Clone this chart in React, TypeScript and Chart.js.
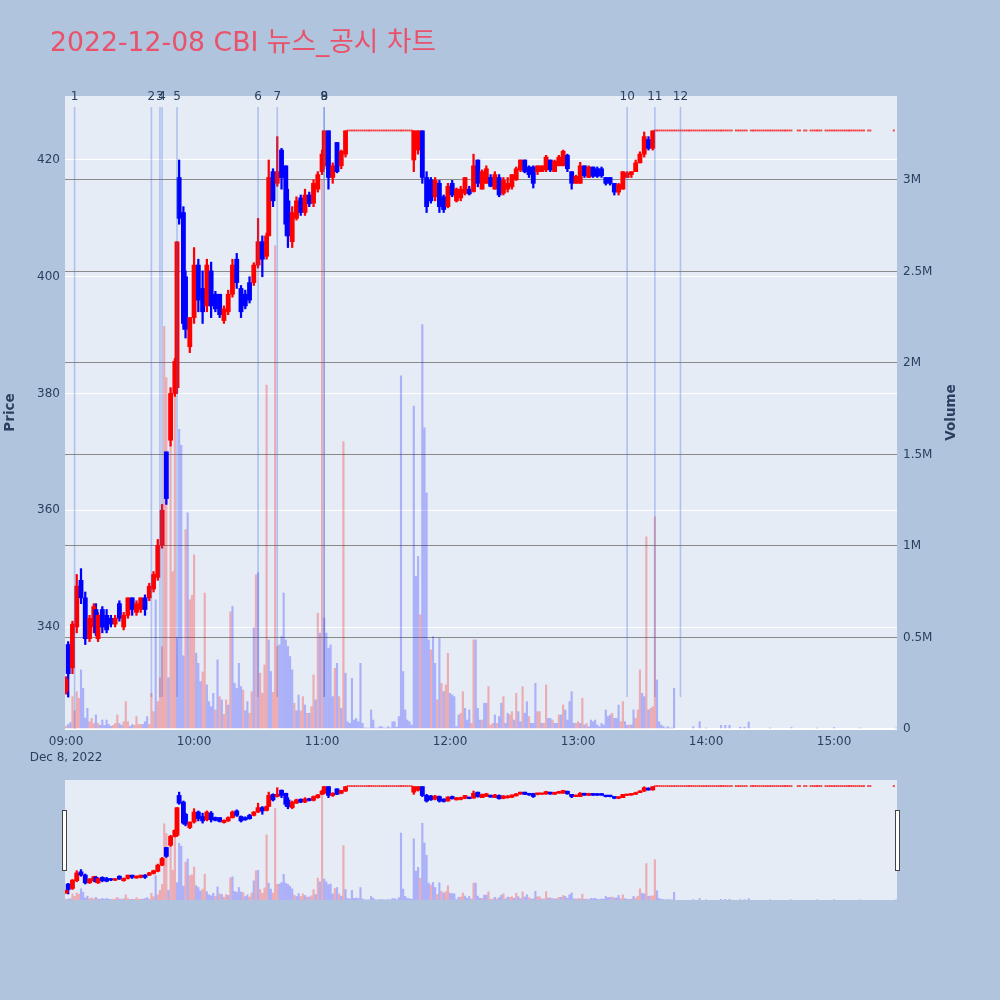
import React, { useEffect, useRef } from 'react';
import { Chart, registerables } from 'chart.js';

Chart.register(...registerables);

const FONT = '"DejaVu Sans", Verdana, sans-serif';
const TEXT_COLOR = '#2a3f5f';

const chartTitle = '2022-12-08 CBI 뉴스_공시 차트';
const dateLabel = 'Dec 8, 2022';
const priceAxisTitle = 'Price';
const volumeAxisTitle = 'Volume';

// ---- candles (minutes after 09:00) ----
const candleMinute = [
  0, 1, 3, 5, 7, 9, 11, 13, 14, 15,
  17, 19, 21, 23, 25, 27, 29, 31, 33, 35,
  37, 39, 41, 43, 45, 47, 49, 51, 52, 53,
  55, 56, 58, 60, 62, 64, 66, 68, 70, 72,
  74, 76, 78, 80, 82, 84, 86, 88, 90, 92,
  94, 95, 97, 99, 101, 103, 104, 106, 108, 110,
  112, 114, 116, 118, 120, 121, 123, 125, 127, 129,
  131, 163, 165, 167, 169, 171, 173, 175, 177, 179,
  181, 183, 185, 187, 189, 191, 193, 195, 197, 199,
  201, 203, 205, 207, 209, 211, 213, 215, 217, 219,
  221, 223, 225, 227, 229, 231, 233, 235, 237, 239,
  241, 243, 245, 247, 249, 251, 253, 255, 257, 259,
  261, 263, 265, 267, 269, 271, 273, 275,
];
const candleOpen = [
  329, 337, 333, 340, 348, 345, 338, 340, 343, 338,
  343, 342, 341.5, 340.5, 344, 340, 342, 345, 342.5, 343,
  345, 345, 346.5, 348.5, 354, 370, 372, 380, 381, 417,
  411, 400, 388, 393, 402, 398, 395, 401, 397, 397,
  392.5, 394, 397, 403, 398, 397, 399, 399, 402, 406,
  403.5, 407, 418, 416, 421.7, 419, 413, 406, 410, 413.5,
  411, 414, 412.6, 415, 418, 419, 425, 417, 423, 419,
  421, 420, 421.7, 425, 417, 416.6, 413.7, 416, 413.7, 412,
  416, 413, 413.5, 414.3, 415, 414.6, 420, 415, 416, 417,
  415, 417, 414.3, 415, 415.4, 416.6, 418.3, 420, 418.8, 418.8,
  418, 418, 418.3, 420, 418, 419, 419, 420.8, 418, 416,
  416, 419, 417, 418.8, 418.5, 418.5, 417, 417, 416, 414.5,
  415, 417, 417.5, 418, 419.5, 421, 423.5, 422,
];
const candleHigh = [
  331.5, 337.5, 341, 349, 350, 346, 342, 344, 344, 342.5,
  343.5, 343, 342, 342, 344.5, 342.5, 345, 345, 344.5, 345,
  345.5, 347.5, 349.5, 355, 361, 370, 381, 386, 406, 420,
  412, 401, 393, 405, 403, 401, 403, 402.5, 397.5, 397,
  395, 397.7, 403, 404, 398.5, 397.7, 400, 402.4, 410, 407,
  407.5, 420, 418.5, 424, 422, 419, 415, 412, 413.7, 414,
  415, 414.5, 416.6, 418, 421.7, 425, 425, 419.5, 423, 421.7,
  425, 425, 425, 425, 418, 417, 417, 416.5, 414, 416,
  416.5, 415.2, 415.5, 417, 415.5, 421, 420, 418.3, 419, 417.5,
  418, 417.5, 417, 417, 417.5, 418.8, 420, 420, 419, 419,
  419, 419, 420.8, 420, 420, 420.8, 421.7, 421, 418, 417.4,
  419.6, 419, 419, 418.8, 418.8, 418.8, 417, 417, 416, 416,
  418, 418, 418, 420, 421.4, 424.8, 424, 425,
];
const candleLow = [
  328.5, 328, 332, 339, 344, 337, 337.5, 339, 338.5, 337.5,
  339, 339, 340, 340, 341, 339.5, 341.5, 342, 342, 342.5,
  342, 344.5, 346, 348, 353.5, 361, 371, 379.5, 380, 409,
  391, 389.5, 387, 392, 394, 392, 394, 393, 394, 393,
  392, 393.5, 396.5, 398, 393, 394.5, 395.5, 398.5, 401.5, 400,
  403, 407, 412, 415.5, 415, 407, 405, 405, 409.7, 410.5,
  410.5, 412, 412, 414.5, 417.5, 418.5, 415, 416, 417.8, 418.5,
  420.5, 418, 421, 416, 411, 412.6, 413, 411, 411, 411.8,
  413.7, 412.8, 413, 414, 414, 414.5, 415.4, 415, 416, 415.4,
  415, 413.7, 414, 414.5, 415, 416.5, 418, 417.8, 417, 415.2,
  417.5, 418, 418, 418, 418, 419, 419, 418, 415, 416,
  416, 417, 417, 417, 417, 417, 415.7, 415.7, 414, 414,
  415, 417, 417, 418, 419.5, 420.5, 421.7, 421.7,
];
const candleClose = [
  331, 332, 340.5, 347, 345, 338, 341.5, 343.5, 339, 342,
  340, 339.5, 340.5, 341.5, 341.5, 342, 345, 343, 344, 345,
  343, 347, 349, 354, 360, 362, 380, 385.5, 406, 410,
  392, 391, 393, 402, 396, 394, 402, 395, 394.5, 393.5,
  394.5, 397, 402, 399, 394, 395, 396, 402, 406, 403,
  407, 417, 413, 418, 417, 409, 407, 411, 413, 411,
  414, 412.5, 416, 417.5, 421, 425, 417, 419, 418, 421.5,
  425, 425, 425, 417, 412, 413, 416.5, 412, 411.5, 415.5,
  414, 415, 415, 417, 414.2, 419, 416, 418, 418.5, 415.5,
  417.5, 414, 416.5, 416, 417.5, 418.5, 420, 418, 417.5, 416,
  419, 419, 420.5, 418.3, 419.8, 420.5, 421.5, 418.5, 416, 417.2,
  419, 417.3, 418.8, 417.2, 417.2, 417.3, 416, 416, 414.5, 415.8,
  418, 417.8, 418, 419.5, 421, 424, 422, 425,
];

// minutes (after 09:00) spent at the upper-limit price, one doji per minute
const limitPrice = 425;
const limitRanges = [
  [132, 162], [276, 312], [314, 319], [321, 340], [343, 344],
  [346, 347], [349, 354], [356, 374], [376, 377], [388, 388],
];

// volume per minute from 09:00 (thousand shares) and direction (1 = up minute)
const volumeK = [
  15, 25, 35, 177, 100, 204, 168, 323, 222, 60,
  113, 40, 58, 30, 77, 30, 20, 49, 20, 49,
  25, 15, 20, 30, 77, 30, 20, 40, 150, 40,
  15, 25, 20, 68, 25, 25, 25, 40, 68, 25,
  195, 95, 706, 150, 280, 450, 2200, 1920, 280, 1550,
  860, 1850, 500, 1637, 1550, 400, 1089, 1181, 706, 730,
  952, 414, 359, 259, 312, 743, 241, 150, 122, 195,
  104, 378, 177, 159, 80, 159, 131, 640, 670, 250,
  222, 359, 232, 213, 100, 150, 86, 204, 553, 843,
  854, 305, 195, 350, 1880, 487, 314, 200, 2640, 451,
  460, 505, 743, 487, 451, 396, 323, 141, 100, 186,
  100, 177, 131, 86, 86, 122, 296, 159, 633, 524,
  3000, 606, 524, 442, 460, 177, 332, 359, 177, 113,
  1570, 305, 40, 31, 277, 49, 58, 40, 359, 31,
  5, 5, 5, 104, 49, 5, 5, 13, 13, 5,
  5, 13, 5, 40, 40, 10, 68, 1930, 314, 104,
  49, 40, 22, 1764, 834, 943, 624, 2210, 1646, 1290,
  487, 432, 505, 359, 159, 496, 250, 204, 241, 414,
  195, 186, 177, 13, 77, 86, 204, 113, 49, 104,
  31, 487, 487, 113, 49, 49, 141, 141, 232, 22,
  31, 77, 31, 68, 141, 177, 31, 86, 77, 95,
  49, 195, 95, 40, 232, 86, 150, 68, 31, 31,
  250, 95, 95, 31, 31, 241, 58, 58, 49, 31,
  31, 77, 77, 131, 104, 49, 150, 204, 31, 31,
  40, 31, 168, 22, 31, 13, 49, 40, 49, 22,
  13, 31, 22, 104, 68, 77, 86, 58, 58, 131,
  40, 150, 40, 20, 22, 22, 104, 58, 104, 323,
  195, 177, 1050, 104, 113, 122, 1160, 268, 40, 22,
  13, 5, 13, 5, 5, 222,
];
const volumeUp = [
  1, 0, 0, 1, 1, 1, 1, 0, 0, 0,
  0, 1, 1, 1, 0, 1, 0, 0, 0, 0,
  0, 0, 1, 1, 1, 0, 0, 1, 1, 1,
  0, 0, 1, 1, 1, 1, 0, 0, 0, 1,
  1, 1, 0, 1, 1, 1, 1, 1, 0, 1,
  1, 1, 0, 0, 0, 0, 1, 0, 1, 1,
  1, 0, 0, 0, 1, 1, 0, 0, 0, 0,
  1, 0, 1, 0, 1, 1, 0, 1, 0, 0,
  0, 0, 0, 1, 0, 0, 1, 1, 0, 1,
  0, 1, 1, 1, 1, 0, 0, 1, 1, 1,
  0, 0, 0, 0, 0, 0, 0, 1, 0, 0,
  1, 1, 0, 1, 0, 1, 1, 0, 1, 0,
  1, 0, 0, 0, 0, 0, 1, 0, 1, 0,
  1, 0, 0, 0, 0, 0, 0, 0, 0, 0,
  0, 0, 0, 0, 0, 0, 0, 0, 0, 0,
  0, 0, 0, 0, 0, 0, 0, 0, 0, 0,
  0, 0, 0, 0, 0, 0, 1, 0, 0, 0,
  0, 1, 0, 0, 1, 0, 1, 0, 1, 1,
  0, 0, 0, 0, 0, 1, 1, 0, 0, 0,
  1, 1, 0, 0, 0, 1, 0, 0, 1, 1,
  1, 0, 1, 0, 0, 1, 0, 0, 1, 1,
  0, 1, 0, 0, 1, 0, 0, 1, 0, 0,
  0, 1, 1, 0, 1, 1, 0, 0, 1, 0,
  0, 1, 0, 1, 0, 0, 0, 0, 0, 1,
  1, 0, 1, 0, 1, 0, 0, 0, 0, 0,
  0, 0, 0, 0, 0, 0, 1, 0, 0, 0,
  1, 1, 0, 0, 1, 0, 0, 1, 1, 1,
  0, 0, 1, 0, 1, 1, 1, 0, 0, 0,
  0, 0, 0, 0, 0, 0,
];
const lateVolumeMinute = [294, 297, 300, 307, 309, 311, 316, 318, 320, 330, 340, 352, 360, 372, 389];
const lateVolumeK = [13, 40, 5, 20, 20, 20, 10, 10, 38, 5, 8, 5, 8, 5, 5];

// news / disclosure markers
const eventLabel = ['1', '2', '3', '4', '5', '6', '7', '8', '9', '10', '11', '12'];
const eventMinute = [4, 40, 44, 45, 52, 90, 99, 121, 121, 263, 276, 288];
const eventToBottom = [1, 0, 0, 0, 0, 0, 0, 0, 0, 0, 0, 0];

const hourTicks = [0, 60, 120, 180, 240, 300, 360];
const priceTicks = [340, 360, 380, 400, 420];
const volumeTicks = [0, 500000, 1000000, 1500000, 2000000, 2500000, 3000000];

const X_MIN = -0.5;
const X_MAX = 389.5;
const PRICE_MIN = 322.53;
const PRICE_MAX = 430.96;
const VOL_MAX = 3459000;

const UP = '#ff0000';
const DOWN = '#0000ff';
const UP_VOL = 'rgba(255,0,0,0.27)';
const DOWN_VOL = 'rgba(0,0,255,0.25)';

function buildDatasets(): any[] {
  const colors = candleMinute.map((_, i) => (candleClose[i] > candleOpen[i] ? UP : DOWN));
  const vols: { x: number; y: number; up: number }[] = [];
  volumeK.forEach((v, m) => vols.push({ x: m, y: v * 1000, up: volumeUp[m] }));
  lateVolumeMinute.forEach((m, i) => vols.push({ x: m, y: lateVolumeK[i] * 1000, up: 0 }));
  const flat: { x: number; y: number[] }[] = [];
  limitRanges.forEach(([a, b]) => {
    for (let m = a; m <= b; m++) flat.push({ x: m, y: [limitPrice - 0.05, limitPrice + 0.05] });
  });
  return [
    {
      label: 'limit',
      data: flat,
      yAxisID: 'yp',
      backgroundColor: 'rgba(255,0,0,0.75)',
      barThickness: 1.3,
      minBarLength: 1.2,
      grouped: false,
      order: 0,
    },
    {
      label: 'body',
      data: candleMinute.map((m, i) => ({ x: m, y: [candleOpen[i], candleClose[i]] })),
      yAxisID: 'yp',
      backgroundColor: colors,
      barThickness: 4.2,
      minBarLength: 1.5,
      grouped: false,
      order: 1,
    },
    {
      label: 'wick',
      data: candleMinute.map((m, i) => ({ x: m, y: [candleLow[i], candleHigh[i]] })),
      yAxisID: 'yp',
      backgroundColor: colors,
      barThickness: 1.6,
      grouped: false,
      order: 2,
    },
    {
      label: 'volume',
      data: vols.map((v) => ({ x: v.x, y: v.y })),
      yAxisID: 'yv',
      backgroundColor: vols.map((v) => (v.up ? UP_VOL : DOWN_VOL)),
      barThickness: 1.5,
      grouped: false,
      order: 3,
    },
  ];
}

const decorPlugin = {
  id: 'decor',
  beforeDraw(chart: any) {
    const { ctx, chartArea: a } = chart;
    ctx.save();
    ctx.fillStyle = '#b0c4de';
    ctx.fillRect(0, 0, chart.width, chart.height);
    ctx.fillStyle = '#e5ecf6';
    ctx.fillRect(a.left, a.top, a.right - a.left, a.bottom - a.top);
    ctx.fillRect(a.left, 780, a.right - a.left, 120);
    ctx.restore();
  },
  afterDatasetsDraw(chart: any) {
    const { ctx } = chart;
    const xs = chart.scales.x;
    const yp = chart.scales.yp;
    ctx.save();
    ctx.strokeStyle = 'rgba(65,105,225,0.33)';
    ctx.lineWidth = 1.6;
    eventMinute.forEach((m, i) => {
      const x = xs.getPixelForValue(m);
      const yb = eventToBottom[i] ? chart.chartArea.bottom : yp.getPixelForValue(328);
      ctx.beginPath();
      ctx.moveTo(x, 107);
      ctx.lineTo(x, yb);
      ctx.stroke();
    });
    ctx.restore();
  },
  afterDraw(chart: any) {
    const { ctx } = chart;
    const xs = chart.scales.x;
    ctx.save();
    ctx.fillStyle = TEXT_COLOR;
    ctx.font = `12px ${FONT}`;
    ctx.textAlign = 'center';
    ctx.textBaseline = 'middle';
    eventMinute.forEach((m, i) => {
      ctx.fillText(eventLabel[i], xs.getPixelForValue(m), 97);
    });
    // title
    ctx.fillStyle = 'rgb(233,82,106)';
    ctx.font = '27px "DejaVu Sans", "Noto Sans CJK KR", sans-serif';
    ctx.textAlign = 'left';
    ctx.textBaseline = 'alphabetic';
    ctx.fillText(chartTitle, 50, 51, 386);
    // axis titles
    ctx.fillStyle = TEXT_COLOR;
    ctx.font = `bold 13.5px ${FONT}`;
    ctx.textAlign = 'center';
    ctx.textBaseline = 'middle';
    ctx.save();
    ctx.translate(10, 412.5);
    ctx.rotate(-Math.PI / 2);
    ctx.fillText(priceAxisTitle, 0, 0);
    ctx.restore();
    ctx.save();
    ctx.translate(951, 412.5);
    ctx.rotate(-Math.PI / 2);
    ctx.fillText(volumeAxisTitle, 0, 0);
    ctx.restore();
    ctx.restore();
  },
};

function hourLabel(v: number): string | string[] {
  const h = 9 + Math.round(v / 60);
  const s = (h < 10 ? '0' : '') + h + ':00';
  return v === 0 ? [s, dateLabel] : s;
}

function volLabel(v: number): string {
  if (v === 0) return '0';
  return v / 1e6 + 'M';
}

export default function App() {
  const mainRef = useRef<HTMLCanvasElement>(null);
  const sliderRef = useRef<HTMLCanvasElement>(null);

  useEffect(() => {
    const tickFont = { family: FONT, size: 12 };
    const main = new Chart(mainRef.current as HTMLCanvasElement, {
      type: 'bar',
      data: { datasets: buildDatasets() },
      plugins: [decorPlugin],
      options: {
        animation: false,
        responsive: false,
        devicePixelRatio: 1,
        events: [],
        layout: { padding: { top: 96, left: 0, right: 0, bottom: 0 } },
        plugins: { legend: { display: false }, tooltip: { enabled: false }, title: { display: false } },
        scales: {
          x: {
            type: 'linear',
            min: X_MIN,
            max: X_MAX,
            offset: false,
            grid: { display: false, drawTicks: false },
            border: { display: false },
            ticks: {
              padding: 4,
              color: TEXT_COLOR,
              font: { ...tickFont, lineHeight: 1.4 },
              maxRotation: 0,
              autoSkip: false,
              callback: (v: any) => hourLabel(Number(v)),
            },
            afterBuildTicks: (s: any) => {
              s.ticks = hourTicks.map((v) => ({ value: v }));
            },
            afterFit: (s: any) => {
              s.height = 271;
            },
          },
          yp: {
            type: 'linear',
            position: 'left',
            min: PRICE_MIN,
            max: PRICE_MAX,
            grid: { color: '#ffffff', lineWidth: 1, drawTicks: false },
            border: { display: false },
            ticks: { padding: 5, color: TEXT_COLOR, font: tickFont },
            afterBuildTicks: (s: any) => {
              s.ticks = priceTicks.map((v) => ({ value: v }));
            },
            afterFit: (s: any) => {
              s.width = 65;
            },
          },
          yv: {
            type: 'linear',
            position: 'right',
            min: 0,
            max: VOL_MAX,
            grid: {
              color: (c: any) => (c.tick && c.tick.value === 0 ? '#ffffff' : '#8a8a8a'),
              lineWidth: (c: any) => (c.tick && c.tick.value === 0 ? 2 : 1),
              drawTicks: false,
            },
            border: { display: false },
            ticks: {
              padding: 6,
              color: TEXT_COLOR,
              font: tickFont,
              callback: (v: any) => volLabel(Number(v)),
            },
            afterBuildTicks: (s: any) => {
              s.ticks = volumeTicks.map((v) => ({ value: v }));
            },
            afterFit: (s: any) => {
              s.width = 103;
            },
          },
        },
      } as any,
    });

    const slider = new Chart(sliderRef.current as HTMLCanvasElement, {
      type: 'bar',
      data: { datasets: buildDatasets() },
      options: {
        animation: false,
        responsive: false,
        devicePixelRatio: 1,
        events: [],
        layout: { padding: 0 },
        plugins: { legend: { display: false }, tooltip: { enabled: false } },
        scales: {
          x: { type: 'linear', min: X_MIN, max: X_MAX, offset: false, display: false },
          yp: { type: 'linear', min: PRICE_MIN, max: PRICE_MAX, display: false },
          yv: { type: 'linear', min: 0, max: VOL_MAX, display: false },
        },
      } as any,
    });

    return () => {
      main.destroy();
      slider.destroy();
    };
  }, []);

  return (
    <div style={{ position: 'absolute', left: 0, top: 0, width: 1000, height: 1000, background: '#b0c4de' }}>
      <canvas
        ref={mainRef}
        width={1000}
        height={1000}
        style={{ position: 'absolute', left: 0, top: 0, width: 1000, height: 1000 }}
      />
      <canvas
        ref={sliderRef}
        width={832}
        height={120}
        style={{ position: 'absolute', left: 65, top: 780, width: 832, height: 120 }}
      />
      <div
        style={{
          position: 'absolute',
          left: 62,
          top: 810,
          width: 3,
          height: 59,
          background: '#ffffff',
          border: '1px solid #444444',
        }}
      />
      <div
        style={{
          position: 'absolute',
          left: 895,
          top: 810,
          width: 3,
          height: 59,
          background: '#ffffff',
          border: '1px solid #444444',
        }}
      />
    </div>
  );
}
